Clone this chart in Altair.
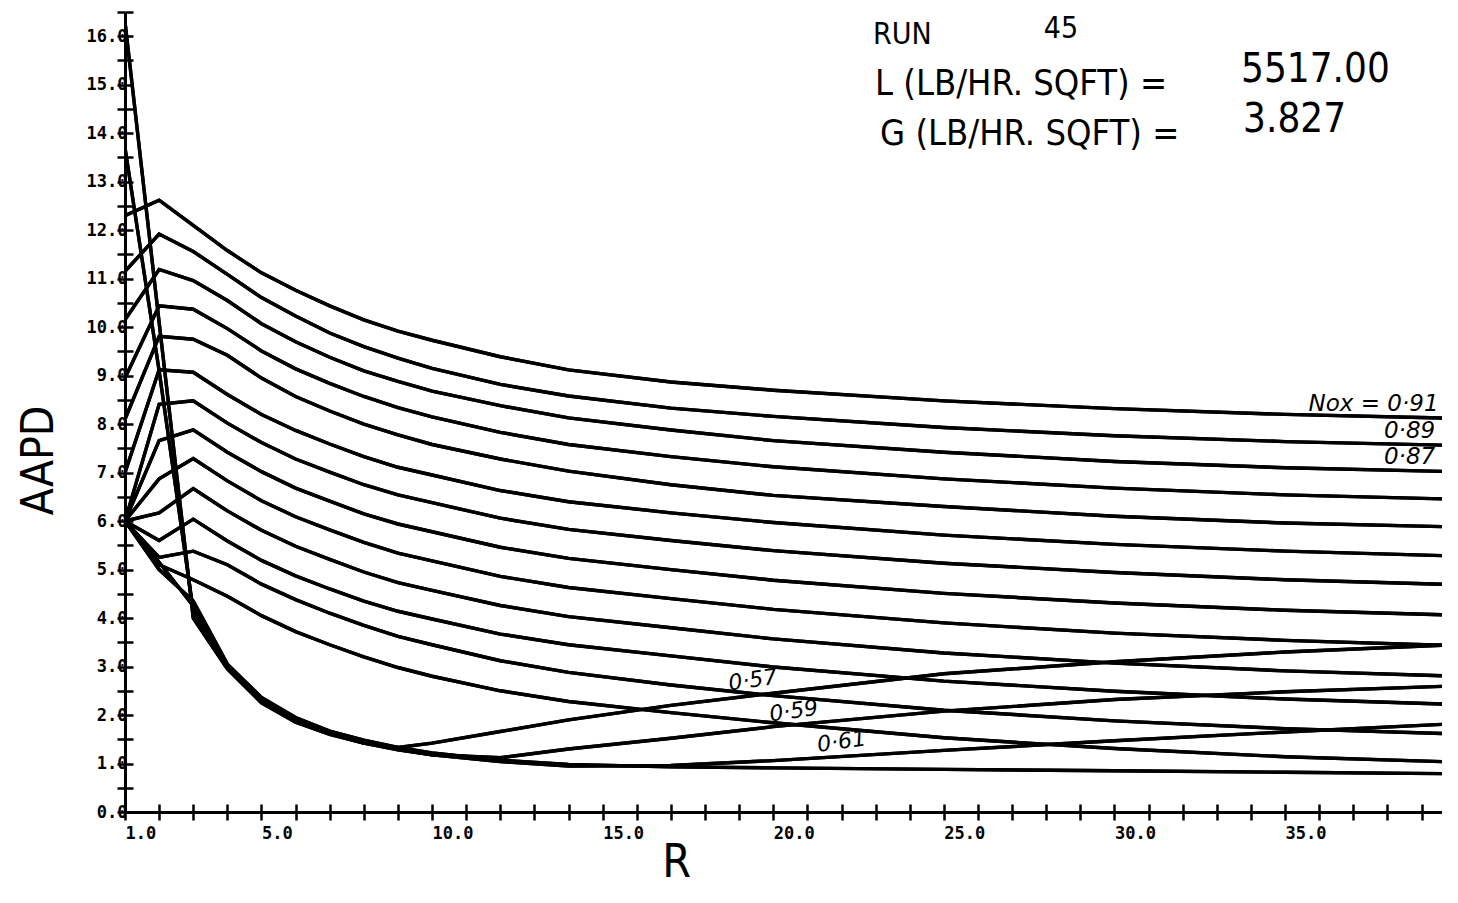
import altair as alt
import pandas as pd

# ---------------- data ----------------
R_VALUES = [1, 2, 3, 4, 5, 6, 7, 8, 9, 10, 12, 14, 17, 20, 25, 30, 35, 40]

NOX_091 = [12.30, 12.62, 12.10, 11.58, 11.12, 10.76, 10.44, 10.15, 9.92, 9.73, 9.39, 9.12, 8.87, 8.70, 8.48, 8.32, 8.20, 8.12]
NOX_089 = [11.15, 11.92, 11.56, 11.09, 10.61, 10.23, 9.88, 9.60, 9.36, 9.15, 8.82, 8.58, 8.33, 8.16, 7.93, 7.76, 7.64, 7.56]
NOX_087 = [10.15, 11.19, 10.96, 10.55, 10.07, 9.70, 9.38, 9.10, 8.88, 8.68, 8.38, 8.13, 7.88, 7.66, 7.42, 7.23, 7.10, 7.02]
NOX_085 = [8.95, 10.44, 10.37, 9.97, 9.51, 9.14, 8.84, 8.57, 8.34, 8.15, 7.83, 7.58, 7.33, 7.12, 6.87, 6.68, 6.54, 6.45]
NOX_083 = [8.10, 9.81, 9.75, 9.42, 8.95, 8.57, 8.27, 8.00, 7.78, 7.58, 7.28, 7.03, 6.75, 6.53, 6.30, 6.10, 5.96, 5.88]
NOX_081 = [7.00, 9.12, 9.07, 8.61, 8.20, 7.87, 7.59, 7.33, 7.11, 6.95, 6.63, 6.40, 6.17, 5.97, 5.71, 5.52, 5.38, 5.28]
NOX_079 = [6.00, 8.41, 8.48, 8.02, 7.62, 7.28, 7.01, 6.75, 6.54, 6.38, 6.06, 5.83, 5.60, 5.39, 5.13, 4.94, 4.79, 4.69]
NOX_077 = [6.00, 7.66, 7.88, 7.42, 7.02, 6.68, 6.41, 6.15, 5.94, 5.78, 5.46, 5.23, 5.00, 4.78, 4.51, 4.31, 4.16, 4.06]
NOX_075 = [6.00, 6.87, 7.29, 6.83, 6.42, 6.09, 5.82, 5.56, 5.34, 5.18, 4.86, 4.63, 4.40, 4.18, 3.90, 3.69, 3.54, 3.43]
NOX_073 = [6.00, 6.17, 6.67, 6.21, 5.81, 5.48, 5.21, 4.95, 4.73, 4.57, 4.26, 4.03, 3.80, 3.57, 3.28, 3.07, 2.91, 2.80]
NOX_071 = [6.00, 5.60, 6.04, 5.59, 5.19, 4.87, 4.60, 4.35, 4.14, 3.98, 3.67, 3.45, 3.22, 2.99, 2.70, 2.49, 2.33, 2.22]
NOX_069 = [6.00, 5.25, 5.38, 5.10, 4.70, 4.38, 4.10, 3.85, 3.62, 3.45, 3.12, 2.88, 2.62, 2.40, 2.10, 1.88, 1.72, 1.61]
NOX_067 = [6.00, 5.10, 4.79, 4.45, 4.05, 3.72, 3.45, 3.20, 2.98, 2.80, 2.50, 2.28, 2.05, 1.84, 1.53, 1.31, 1.14, 1.03]
NOX_063 = [6.00, 5.00, 4.35, 3.05, 2.36, 1.95, 1.67, 1.48, 1.33, 1.22, 1.07, 0.98, 0.93, 0.91, 0.88, 0.85, 0.82, 0.79]
NOX_061 = [6.00, 5.15, 4.25, 3.02, 2.32, 1.92, 1.64, 1.45, 1.30, 1.18, 1.04, 0.95, 0.96, 1.06, 1.27, 1.47, 1.65, 1.82]
NOX_059 = [13.70, 9.10, 4.15, 3.00, 2.30, 1.90, 1.62, 1.42, 1.28, 1.18, 1.12, 1.30, 1.52, 1.76, 2.08, 2.32, 2.48, 2.60]
NOX_057 = [16.30, 10.10, 4.00, 2.95, 2.25, 1.85, 1.60, 1.42, 1.33, 1.42, 1.66, 1.90, 2.20, 2.45, 2.85, 3.10, 3.30, 3.45]

SERIES = [
    ("0.91", NOX_091), ("0.89", NOX_089), ("0.87", NOX_087), ("0.85", NOX_085),
    ("0.83", NOX_083), ("0.81", NOX_081), ("0.79", NOX_079), ("0.77", NOX_077),
    ("0.75", NOX_075), ("0.73", NOX_073), ("0.71", NOX_071), ("0.69", NOX_069),
    ("0.67", NOX_067), ("0.63", NOX_063), ("0.61", NOX_061), ("0.59", NOX_059),
    ("0.57", NOX_057),
]

X_TICKS = list(range(1, 40))
Y_TICKS = [k * 0.5 for k in range(0, 34)]

RUN_LABEL = "RUN"
RUN_NUMBER = "45"
L_LABEL = "L (LB/HR. SQFT) ="
G_LABEL = "G (LB/HR. SQFT) ="
L_VALUE = "5517.00"
G_VALUE = "3.827"

records = [
    {"R": r, "AAPD": v, "Nox": name}
    for name, vals in SERIES
    for r, v in zip(R_VALUES, vals)
]
curves = pd.DataFrame(records)

# ---------------- styling ----------------
NARROW = "'Liberation Sans Narrow', 'DejaVu Sans Condensed', sans-serif"
TICKFONT = "DejaVu Sans Mono"
HAND = "DejaVu Sans"

x_scale = alt.Scale(domain=[1, 39.6], nice=False, zero=False)
y_scale = alt.Scale(domain=[0, 16.5], nice=False, zero=False)

x_axis_main = alt.Axis(
    orient="bottom", values=X_TICKS, grid=False,
    domainColor="black", domainWidth=3, tickColor="black", tickWidth=2.5, tickSize=8,
    labelExpr="(datum.value == 1 || datum.value % 5 == 0) ? format(datum.value, '.1f') : ''",
    labelAlign="left", labelBaseline="top", labelPadding=5, labelFlush=False, labelOverlap=False,
    labelFont=TICKFONT, labelFontWeight="bold", labelFontSize=17, labelColor="black",
    title="R", titleFont=NARROW, titleFontSize=46, titleFontWeight="normal", titleColor="black",
    titleX=551, titleY=64, titleAlign="center", titleBaseline="alphabetic",
)
y_axis_main = alt.Axis(
    orient="left", values=Y_TICKS, grid=False,
    domainColor="black", domainWidth=3, tickColor="black", tickWidth=2.5, tickSize=8,
    labelExpr="datum.value % 1 == 0 ? format(datum.value, '.1f') : ''",
    labelAlign="right", labelBaseline="middle", labelPadding=-10, labelOverlap=False,
    labelFont=TICKFONT, labelFontWeight="bold", labelFontSize=17, labelColor="black",
    title="AAPD", titleFont=NARROW, titleFontSize=44, titleFontWeight="normal", titleColor="black",
    titleAngle=270, titleX=-86, titleY=448, titleAlign="center", titleBaseline="middle",
)
# second set of ticks pointing inward, so the ticks cross the axis lines
x_axis_inner = alt.Axis(
    orient="bottom", values=X_TICKS, grid=False, domain=False, labels=False,
    tickColor="black", tickWidth=2.5, tickSize=8, offset=-8, title="",
)
y_axis_inner = alt.Axis(
    orient="left", values=Y_TICKS, grid=False, domain=False, labels=False,
    tickColor="black", tickWidth=2.5, tickSize=8, offset=-8, title="",
)

base = alt.Chart(curves).mark_line(color="black", strokeWidth=3.4, clip=True)

main_lines = base.encode(
    x=alt.X("R:Q", scale=x_scale, axis=x_axis_main),
    y=alt.Y("AAPD:Q", scale=y_scale, axis=y_axis_main),
    detail="Nox:N",
)
inner_ticks = base.encode(
    x=alt.X("R:Q", scale=x_scale, axis=x_axis_inner),
    y=alt.Y("AAPD:Q", scale=y_scale, axis=y_axis_inner),
    detail="Nox:N",
)


def note(text, r, a, size, font, style="normal", align="left", baseline="alphabetic", angle=0):
    kw = dict(font=font, fontSize=size, fontStyle=style, fontWeight="normal",
              align=align, baseline=baseline, color="black")
    if angle:
        kw["angle"] = angle
    return alt.Chart(pd.DataFrame({"label": [text]})).mark_text(**kw).encode(
        x=alt.XDatum(r, scale=x_scale, axis=None),
        y=alt.YDatum(a, scale=y_scale, axis=None),
        text="label:N",
    )


notes = [
    note(RUN_LABEL, 22.92, 15.84, 30, NARROW),
    note(RUN_NUMBER, 27.93, 15.96, 30, NARROW),
    note(L_LABEL, 22.98, 14.79, 36, NARROW),
    note(G_LABEL, 23.13, 13.76, 36, NARROW),
    note(L_VALUE, 33.71, 15.06, 40, NARROW),
    note(G_VALUE, 33.77, 14.02, 40, NARROW),
    note("Nox = 0\u00b791", 39.5, 8.28, 23, HAND, style="italic", align="right"),
    note("0\u00b789", 39.4, 7.72, 23, HAND, style="italic", align="right"),
    note("0\u00b787", 39.4, 7.18, 23, HAND, style="italic", align="right"),
    note("0\u00b757", 19.4, 2.72, 22, HAND, style="italic", align="center", baseline="middle", angle=352),
    note("0\u00b759", 20.6, 2.08, 22, HAND, style="italic", align="center", baseline="middle", angle=352),
    note("0\u00b761", 22.0, 1.45, 22, HAND, style="italic", align="center", baseline="middle", angle=352),
]

chart = alt.layer(main_lines, inner_ticks, *notes).resolve_axis(
    x="independent", y="independent"
).properties(
    width=1317,
    height=800,
    autosize=alt.AutoSizeParams(type="none"),
    padding={"left": 117, "top": 4, "right": 0, "bottom": 74},
    background="white",
).configure_view(strokeWidth=0)

chart.save("out.html", embed_options={"renderer": "svg", "actions": False})
